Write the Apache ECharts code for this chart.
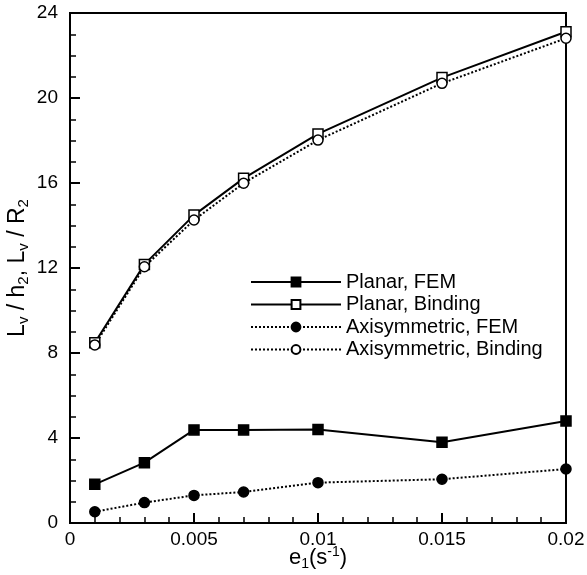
<!DOCTYPE html>
<html>
<head>
<meta charset="utf-8">
<script src="https://cdn.jsdelivr.net/npm/echarts@6/dist/echarts.min.js"></script>
<style>
html,body{margin:0;padding:0;background:#fff;}
#chart{width:587px;height:575px;}
</style>
</head>
<body>
<div id="chart"></div>
<script>
const strainRates = [0.001, 0.003, 0.005, 0.007, 0.01, 0.015, 0.02];
const planarFEM = [1.82, 2.84, 4.38, 4.38, 4.40, 3.80, 4.80];
const planarBinding = [8.48, 12.17, 14.49, 16.22, 18.31, 20.96, 23.12];
const axisymFEM = [0.53, 0.96, 1.30, 1.46, 1.90, 2.06, 2.54];
const axisymBinding = [8.38, 12.06, 14.26, 15.99, 18.02, 20.69, 22.81];
const seriesNames = ['Planar, FEM', 'Planar, Binding', 'Axisymmetric, FEM', 'Axisymmetric, Binding'];

function pairs(ys){ return strainRates.map((x,i)=>[x, ys[i]]); }

const FONT = 'Liberation Sans, Arial, Helvetica, sans-serif';
const chart = echarts.init(document.getElementById('chart'));

function mk(name, data, symbol, filled, dotted){
  return {
    name: name, type: 'line', data: pairs(data),
    symbol: symbol, symbolSize: 10,
    itemStyle: { color: filled ? '#000' : '#fff', borderColor: '#000', borderWidth: 1.5 },
    lineStyle: { color: '#000', width: 2, type: dotted ? [2,2] : 'solid' },
    emphasis: { disabled: true },
    z: filled ? 3 : 2
  };
}

chart.setOption({
  animation: false,
  backgroundColor: '#fff',
  grid: { left: 70, right: 21, top: 13, bottom: 52, show: true, borderColor: '#000', borderWidth: 2,
          containLabel: false, outerBoundsMode: 'none' },
  legend: {
    orient: 'vertical', left: 245, top: 267,
    itemWidth: 90, itemHeight: 11, itemGap: 2.5,
    textStyle: { fontFamily: FONT, fontSize: 20, color: '#000', lineHeight: 20 },
    data: seriesNames
  },
  xAxis: {
    type: 'value', min: 0, max: 0.02, interval: 0.005,
    axisLine: { lineStyle: { color: '#000', width: 2 } },
    axisTick: { inside: true, length: 10, lineStyle: { color: '#000', width: 2 } },
    minorTick: { show: true, splitNumber: 5, length: 6, lineStyle: { color: '#000', width: 1.5 } },
    splitLine: { show: false },
    axisLabel: { fontFamily: FONT, fontSize: 19, color: '#000', margin: 7,
      formatter: v => String(Number(v.toFixed(4))) },
    name: '{m|e}{sub|1}{m|(s}{sup|-1}{m|)}', nameLocation: 'middle', nameGap: 20, nameMoveOverlap: false,
    nameTextStyle: { rich: {
      m: { fontFamily: FONT, fontSize: 22, color: '#000', lineHeight: 30, verticalAlign: 'middle' },
      sub: { fontFamily: FONT, fontSize: 14, color: '#000', lineHeight: 30, verticalAlign: 'bottom', padding: [0,0,2,0] },
      sup: { fontFamily: FONT, fontSize: 14, color: '#000', lineHeight: 30, verticalAlign: 'top', padding: [2,0,0,0] }
    } }
  },
  yAxis: {
    type: 'value', min: 0, max: 24, interval: 4,
    axisLine: { lineStyle: { color: '#000', width: 2 } },
    axisTick: { inside: true, length: 10, lineStyle: { color: '#000', width: 2 } },
    minorTick: { show: true, splitNumber: 4, length: 6, lineStyle: { color: '#000', width: 1.5 } },
    splitLine: { show: false },
    axisLabel: { fontFamily: FONT, fontSize: 19, color: '#000', margin: 12 },
    name: '{m|L}{sub|v}{m| / h}{sub|2}{m|, L}{sub|v}{m| / R}{sub|2}', nameLocation: 'middle', nameGap: 37, nameRotate: 90, nameMoveOverlap: false,
    nameTextStyle: { rich: {
      m: { fontFamily: FONT, fontSize: 23, color: '#000', lineHeight: 30, verticalAlign: 'middle' },
      sub: { fontFamily: FONT, fontSize: 15, color: '#000', lineHeight: 30, verticalAlign: 'bottom', padding: [0,0,2,0] }
    } }
  },
  series: [
    mk(seriesNames[0], planarFEM, 'rect', true, false),
    mk(seriesNames[1], planarBinding, 'rect', false, false),
    mk(seriesNames[2], axisymFEM, 'circle', true, true),
    mk(seriesNames[3], axisymBinding, 'circle', false, true)
  ]
});
</script>
</body>
</html>
